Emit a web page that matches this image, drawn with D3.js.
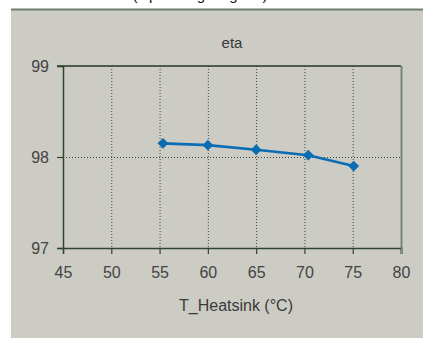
<!DOCTYPE html>
<html>
<head>
<meta charset="utf-8">
<script src="https://cdn.jsdelivr.net/npm/d3@7"></script>
<style>
  body { margin: 0; background: #fff; }
  svg { display: block; }
  text { font-family: "Liberation Sans", "DejaVu Sans", sans-serif; }
</style>
</head>
<body>
<div id="chart"></div>
<script>
var temps = [55.35, 60, 65, 70.4, 75.1];
var eta = [98.15, 98.13, 98.08, 98.02, 97.9];
var xTicks = [45, 50, 55, 60, 65, 70, 75, 80];
var yTicks = [97, 98, 99];

var width = 423, height = 338;
var plotL = 63, plotR = 401, plotT = 66, plotB = 248;

var svg = d3.select("#chart").append("svg")
  .attr("width", width)
  .attr("height", height);

// cut-off heading above the panel
svg.append("text")
  .attr("x", 200).attr("y", 0)
  .attr("text-anchor", "middle")
  .style("font-size", "15px")
  .style("fill", "#111")
  .text("(input weighting eta)");

// panel
svg.append("rect")
  .attr("x", 11).attr("y", 10)
  .attr("width", width - 11).attr("height", height - 10)
  .attr("fill", "#cccbc4");
svg.append("line")
  .attr("x1", 11).attr("x2", width)
  .attr("y1", 9.5).attr("y2", 9.5)
  .attr("stroke", "#6f806f").attr("stroke-width", 2);

var x = d3.scaleLinear().domain([45, 80]).range([plotL, plotR]);
var y = d3.scaleLinear().domain([97, 99]).range([plotB, plotT]);

// grid
var g = svg.append("g");
g.selectAll(".vgrid").data(xTicks.slice(1, -1)).enter().append("line")
  .attr("x1", d => x(d) + 0.5).attr("x2", d => x(d) + 0.5)
  .attr("y1", plotT).attr("y2", plotB)
  .attr("stroke", "#3a463a").attr("stroke-width", 1)
  .attr("stroke-dasharray", "1,2");
g.append("line")
  .attr("x1", plotL).attr("x2", plotR)
  .attr("y1", y(98) + 0.5).attr("y2", y(98) + 0.5)
  .attr("stroke", "#3a463a").attr("stroke-width", 1)
  .attr("stroke-dasharray", "1,2");

// top border and right border
g.append("line")
  .attr("x1", plotL - 6).attr("x2", plotR)
  .attr("y1", plotT).attr("y2", plotT)
  .attr("stroke", "#263626").attr("stroke-width", 1.5);
g.append("line")
  .attr("x1", plotR + 0.5).attr("x2", plotR + 0.5)
  .attr("y1", plotT).attr("y2", plotB + 6)
  .attr("stroke", "#768674").attr("stroke-width", 2);

// axes
var xAxis = svg.append("g")
  .attr("transform", "translate(0," + plotB + ")")
  .call(d3.axisBottom(x).tickValues(xTicks).tickSize(6).tickPadding(13));
var yAxis = svg.append("g")
  .attr("transform", "translate(" + plotL + ",0)")
  .call(d3.axisLeft(y).tickValues(yTicks).tickFormat(d3.format("d")).tickSize(6).tickPadding(8));

[xAxis, yAxis].forEach(function(a) {
  a.select(".domain").attr("stroke", "#2f452f").attr("stroke-width", 1.5);
  a.selectAll(".tick line").attr("stroke", "#2f452f").attr("stroke-width", 1.2);
  a.selectAll(".tick text")
    .style("font-size", "16px")
    .style("fill", "#444")
    .attr("font-family", null);
});
xAxis.select(".tick:last-of-type line").attr("stroke", "#768674");

// titles
svg.append("text")
  .attr("x", 232).attr("y", 48)
  .attr("text-anchor", "middle")
  .style("font-size", "15px")
  .style("fill", "#3a3a3a")
  .text("eta");
svg.append("text")
  .attr("x", 236).attr("y", 311)
  .attr("text-anchor", "middle")
  .style("font-size", "16px")
  .style("fill", "#3a3a3a")
  .text("T_Heatsink (\u00b0C)");

// series
var pts = temps.map((t, i) => [t, eta[i]]);
svg.append("path")
  .datum(pts)
  .attr("fill", "none")
  .attr("stroke", "#0a6db3")
  .attr("stroke-width", 2.6)
  .attr("d", d3.line().x(d => x(d[0])).y(d => y(d[1])));

svg.selectAll(".mk").data(pts).enter().append("path")
  .attr("transform", d => "translate(" + x(d[0]) + "," + y(d[1]) + ")")
  .attr("d", d3.symbol().type(d3.symbolDiamond2).size(75))
  .attr("fill", "#0a6db3");
</script>
</body>
</html>
